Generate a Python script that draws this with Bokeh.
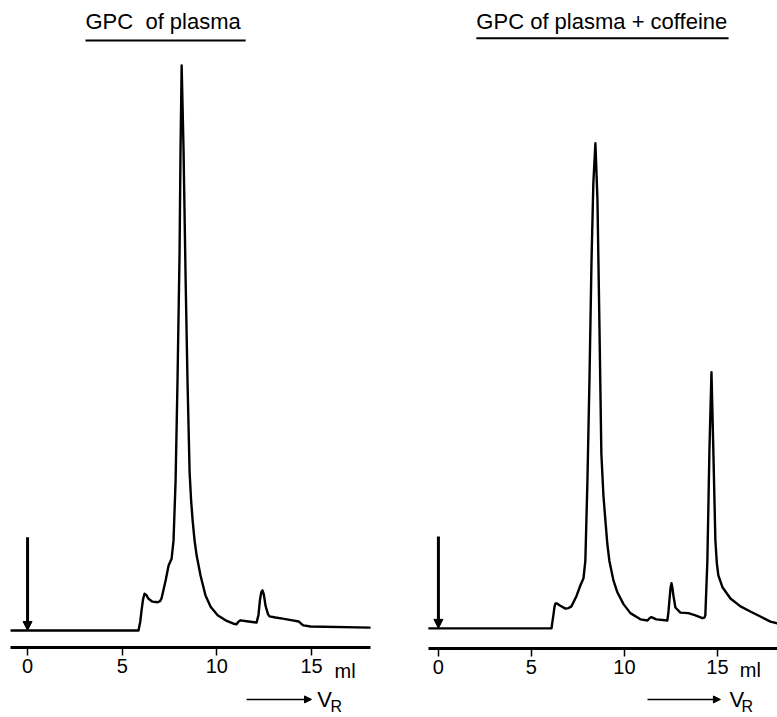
from bokeh.plotting import figure
from bokeh.layouts import row
from bokeh.models import Range1d, Label, Arrow, NormalHead, FixedTicker, LinearAxis
from bokeh.embed import file_html
from bokeh.resources import INLINE

# ---- data (retention volume in ml, detector response in arbitrary units) ----
plasma_ml = [-0.9, 5.86, 5.95, 6.02, 6.1, 6.18, 6.27, 6.39, 6.6, 6.87, 7.0, 7.08, 7.29, 7.45,
             7.61, 7.71, 7.82, 7.92, 8.03, 8.08, 8.14, 8.24, 8.35, 8.45, 8.56, 8.64, 8.72, 8.82,
             8.93, 9.14, 9.4, 9.67, 10.04, 10.46, 10.88, 11.04, 11.15, 11.25, 11.67, 12.1, 12.2,
             12.28, 12.35, 12.41, 12.48, 12.57, 12.7, 12.78, 13.1, 13.47, 14.0, 14.32, 14.45,
             14.58, 14.95, 18.12]
plasma_resp = [0, 0, 1.5, 3.5, 5.5, 6.5, 6.3, 5.6, 5.1, 5.0, 5.2, 5.7, 8.8, 11.5,
               12.7, 15.9, 26.5, 44, 67, 85, 100, 85, 62, 44, 28, 23, 19.5, 16,
               13.3, 9.7, 6.2, 4.2, 2.7, 1.8, 1.2, 1.1, 1.6, 1.8, 1.6, 1.4, 2.8,
               5.5, 6.8, 7.1, 6.4, 4.4, 2.9, 2.5, 2.3, 2.1, 1.8, 1.6, 1.2,
               0.9, 0.7, 0.5]

caff_ml = [-0.54, 6.08, 6.13, 6.18, 6.24, 6.29, 6.38, 6.51, 6.83, 7.0, 7.15, 7.42, 7.63, 7.8,
           7.9, 8.01, 8.12, 8.23, 8.33, 8.44, 8.55, 8.66, 8.76, 8.87, 8.98, 9.08, 9.19, 9.41,
           9.62, 9.95, 10.32, 10.86, 11.24, 11.35, 11.45, 11.72, 12.31, 12.37, 12.42, 12.48,
           12.53, 12.58, 12.63, 12.74, 13.01, 13.44, 13.82, 14.19, 14.3, 14.35, 14.46, 14.57,
           14.68, 14.78, 14.89, 14.97, 15.05, 15.27, 15.7, 16.24, 16.77, 17.31, 17.85, 18.23]
caff_resp = [0, 0, 1.2, 2.3, 3.8, 4.4, 4.4, 4.1, 3.5, 3.6, 3.9, 5.7, 7.6, 8.9,
             12, 26, 44, 65, 79, 86, 76, 53, 31, 23.6, 19, 15, 12, 8.5,
             6.4, 4.3, 2.7, 1.6, 1.4, 1.8, 2.0, 1.6, 1.4, 3.0, 5, 7.2,
             8, 7.2, 5.9, 3.7, 2.8, 2.7, 2.3, 1.8, 1.9, 2.3, 12, 31.6,
             45.4, 31.6, 15.6, 11.5, 9.4, 7.3, 5.3, 3.9, 3.0, 2.1, 1.2, 0.9]

tick_values = [0, 5, 10, 15]
titles = ["GPC\u00a0 of plasma", "GPC of plasma + coffeine"]
unit_label = "ml"

FONT = "Liberation Sans"

# ---- layout settings (not data) ----
panels = [
    dict(w=389, x0=-1.43, x1=19.12, y0=-15.4, y1=111.5, axis_y=-3.0, bounds=(-0.9, 18.12),
         tx=3.06, ty=107.8, ul=(3.06, 11.52, 104.4), inj=16.5,
         ml=16.22, ml_y=-7.1, arr=(11.57, 15.0, -12.2), v=15.3, r=16.0),
    dict(w=388, x0=-2.63, x1=18.23, y0=-15.8, y1=111.3, axis_y=-3.55, bounds=(-0.54, 18.23),
         tx=2.04, ty=107.6, ul=(2.04, 15.6, 104.6), inj=16.3,
         ml=16.2, ml_y=-7.4, arr=(11.24, 15.16, -12.6), v=15.65, r=16.3),
]
series = [(plasma_ml, plasma_resp), (caff_ml, caff_resp)]


def make_panel(cfg, xs, ys, title):
    p = figure(width=cfg["w"], height=717,
               x_range=Range1d(cfg["x0"], cfg["x1"]),
               y_range=Range1d(cfg["y0"], cfg["y1"]),
               output_backend="svg", toolbar_location=None,
               x_axis_location=None, y_axis_location=None,
               min_border_left=0, min_border_right=0,
               min_border_top=0, min_border_bottom=0)
    p.outline_line_color = None
    p.grid.visible = False
    p.background_fill_color = "white"
    p.border_fill_color = "white"

    ax = LinearAxis(fixed_location=cfg["axis_y"])
    ax.ticker = FixedTicker(ticks=tick_values)
    ax.bounds = cfg["bounds"]
    ax.axis_line_width = 3
    ax.axis_line_color = "black"
    ax.major_tick_in = 0
    ax.major_tick_out = 8
    ax.major_tick_line_width = 1.5
    ax.minor_tick_line_color = None
    ax.major_label_standoff = 4
    ax.major_label_text_font = FONT
    ax.major_label_text_font_size = "20px"
    ax.major_label_text_color = "black"
    p.add_layout(ax, "below")

    p.line(xs, ys, line_color="black", line_width=2.4, line_join="round")

    # injection marker
    p.add_layout(Arrow(end=NormalHead(size=9, fill_color="black", line_color="black"),
                       x_start=0, y_start=cfg["inj"], x_end=0, y_end=0,
                       line_width=3, line_color="black"))

    # title + underline
    p.add_layout(Label(x=cfg["tx"], y=cfg["ty"], text=title, text_font=FONT,
                       text_font_size="22px", text_baseline="middle", text_color="black"))
    u0, u1, uy = cfg["ul"]
    p.add_layout(Arrow(end=None, x_start=u0, y_start=uy, x_end=u1, y_end=uy,
                       line_width=2, line_color="black"))

    # unit label
    p.add_layout(Label(x=cfg["ml"], y=cfg["ml_y"], text=unit_label, text_font=FONT,
                       text_font_size="20px", text_baseline="middle", text_color="black"))

    # V_R arrow
    a0, a1, ay = cfg["arr"]
    p.add_layout(Arrow(end=NormalHead(size=7, fill_color="black", line_color="black"),
                       x_start=a0, y_start=ay, x_end=a1, y_end=ay,
                       line_width=1.5, line_color="black"))
    p.add_layout(Label(x=cfg["v"], y=ay, text="V", text_font=FONT,
                       text_font_size="22px", text_baseline="middle", text_color="black"))
    p.add_layout(Label(x=cfg["r"], y=ay, y_offset=-7, text="R", text_font=FONT,
                       text_font_size="16px", text_baseline="middle", text_color="black"))
    return p


figs = [make_panel(cfg, xs, ys, t) for cfg, (xs, ys), t in zip(panels, series, titles)]
layout = row(*figs, spacing=0)

open("out.html", "w").write(file_html(layout, INLINE))
